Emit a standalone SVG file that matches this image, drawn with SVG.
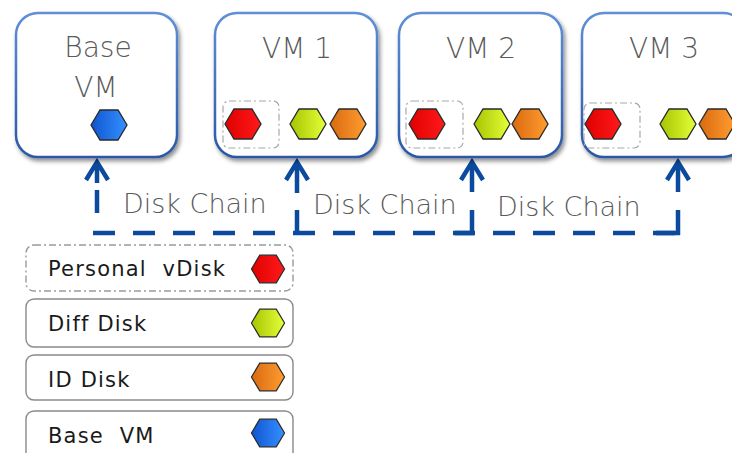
<svg xmlns="http://www.w3.org/2000/svg" width="732" height="453" viewBox="0 0 732 453">
  <defs>
    <linearGradient id="gRed" x1="0" y1="0" x2="1" y2="0">
      <stop offset="0" stop-color="#e00000"/>
      <stop offset="1" stop-color="#ff1a1a"/>
    </linearGradient>
    <linearGradient id="gGreen" x1="0" y1="0" x2="1" y2="0">
      <stop offset="0" stop-color="#a6c400"/>
      <stop offset="1" stop-color="#e4ff3a"/>
    </linearGradient>
    <linearGradient id="gOrange" x1="0" y1="0" x2="1" y2="0">
      <stop offset="0" stop-color="#d96a10"/>
      <stop offset="1" stop-color="#ff9c30"/>
    </linearGradient>
    <linearGradient id="gBlue" x1="0" y1="0" x2="1" y2="0">
      <stop offset="0" stop-color="#0f55d0"/>
      <stop offset="1" stop-color="#3590ff"/>
    </linearGradient>
    <linearGradient id="gBorder" x1="0" y1="0" x2="0" y2="1">
      <stop offset="0" stop-color="#5f8fd6"/>
      <stop offset="1" stop-color="#2a58a6"/>
    </linearGradient>
    <filter id="shadow" x="-10%" y="-10%" width="130%" height="130%">
      <feDropShadow dx="2" dy="3" stdDeviation="2" flood-color="#000" flood-opacity="0.45"/>
    </filter>
    <path id="hex" d="M-18,0 L-9,-15 L9,-15 L18,0 L9,15 L-9,15 Z"/>
  </defs>
  <style>
    .vm { fill: #fff; stroke: url(#gBorder); stroke-width: 2.5; filter: url(#shadow); }
    .pv { fill: none; stroke: #a8a8a8; stroke-width: 1.2; stroke-dasharray: 7 3 2 3; }
    .title { font-family: "DejaVu Sans", sans-serif; font-weight: 200; font-size: 28px; fill: #5a5a5a; text-anchor: middle; }
    .chain { font-family: "DejaVu Sans", sans-serif; font-weight: 200; font-size: 27px; fill: #5a5a5a; }
    .leg { fill: #fff; stroke: #8a8a8a; stroke-width: 1.4; }
    .legpv { fill: #fff; stroke: #9a9a9a; stroke-width: 1.4; stroke-dasharray: 7 3 2 3; }
    .legtxt { font-family: "DejaVu Sans", sans-serif; font-size: 21px; letter-spacing: 1.2px; fill: #1a1a1a; white-space: pre; }
    .hx { stroke: #2a2a2a; stroke-width: 1.3; }
    .red { fill: url(#gRed); }
    .green { fill: url(#gGreen); }
    .orange { fill: url(#gOrange); }
    .blue { fill: url(#gBlue); }
    .link { fill: none; stroke: #0b4a9c; stroke-width: 4.5; }
    .head { fill: none; stroke: #0b4a9c; stroke-width: 4.5; stroke-linejoin: miter; }
  </style>

  <!-- connectors: the disk chain -->
  <g id="connectors">
    <path class="link" d="M93,233 H676" stroke-dasharray="22 18"/>
    <path class="link" d="M97,163 V183 M97,190 V213"/>
    <path class="link" d="M297,163 V193 M297,210 V235"/>
    <path class="link" d="M472,163 V192 M472,210 V235 M455,233 H474"/>
    <path class="link" d="M678,163 V192 M678,210 V235 M656,233 H680"/>
    <polyline class="head" points="86,180 97,162 108,180"/>
    <polyline class="head" points="286,180 297,162 308,180"/>
    <polyline class="head" points="461,180 472,162 483,180"/>
    <polyline class="head" points="667,180 678,162 689,180"/>
    <text class="chain" x="123" y="213">Disk Chain</text>
    <text class="chain" x="313" y="214">Disk Chain</text>
    <text class="chain" x="497" y="216">Disk Chain</text>
  </g>

  <!-- base VM -->
  <g id="base-vm">
    <rect class="vm" x="16" y="13" width="161" height="144" rx="22"/>
    <text class="title" x="98" y="57">Base</text>
    <text class="title" x="96" y="97">VM</text>
    <use href="#hex" class="hx blue" transform="translate(109,125)"/>
  </g>

  <!-- VM 1 -->
  <g id="vm1">
    <rect class="vm" x="215" y="13" width="162" height="144" rx="22"/>
    <text class="title" x="297" y="58">VM 1</text>
    <rect class="pv" x="223" y="101" width="56" height="47" rx="6"/>
    <use href="#hex" class="hx red" transform="translate(243,124)"/>
    <use href="#hex" class="hx green" transform="translate(308,124)"/>
    <use href="#hex" class="hx orange" transform="translate(348,124)"/>
  </g>

  <!-- VM 2 -->
  <g id="vm2">
    <rect class="vm" x="399" y="13" width="163" height="144" rx="22"/>
    <text class="title" x="481" y="58">VM 2</text>
    <rect class="pv" x="406" y="101" width="57" height="47" rx="6"/>
    <use href="#hex" class="hx red" transform="translate(427,124)"/>
    <use href="#hex" class="hx green" transform="translate(492,124)"/>
    <use href="#hex" class="hx orange" transform="translate(530,124)"/>
  </g>

  <!-- VM 3 -->
  <g id="vm3">
    <rect class="vm" x="582" y="13" width="163" height="144" rx="22"/>
    <text class="title" x="664" y="58">VM 3</text>
    <rect class="pv" x="584" y="103" width="56" height="45" rx="6"/>
    <use href="#hex" class="hx red" transform="translate(603,124)"/>
    <use href="#hex" class="hx green" transform="translate(678,124)"/>
    <use href="#hex" class="hx orange" transform="translate(717,124)"/>
  </g>

  <!-- legend -->
  <g id="legend-personal-vdisk">
    <rect class="legpv" x="26" y="245" width="267" height="46" rx="8"/>
    <text class="legtxt" x="48" y="276" xml:space="preserve">Personal  vDisk</text>
    <use href="#hex" class="hx red" transform="translate(268,269) scale(0.92)"/>
  </g>
  <g id="legend-diff-disk">
    <rect class="leg" x="26" y="299" width="267" height="48" rx="8"/>
    <text class="legtxt" x="48" y="331">Diff Disk</text>
    <use href="#hex" class="hx green" transform="translate(268,323) scale(0.92)"/>
  </g>
  <g id="legend-id-disk">
    <rect class="leg" x="26" y="355" width="267" height="45" rx="8"/>
    <text class="legtxt" x="48" y="387">ID Disk</text>
    <use href="#hex" class="hx orange" transform="translate(268,377) scale(0.92)"/>
  </g>
  <g id="legend-base-vm">
    <rect class="leg" x="26" y="411" width="267" height="50" rx="8"/>
    <text class="legtxt" x="48" y="443" xml:space="preserve">Base  VM</text>
    <use href="#hex" class="hx blue" transform="translate(268,433) scale(0.92)"/>
  </g>
</svg>
